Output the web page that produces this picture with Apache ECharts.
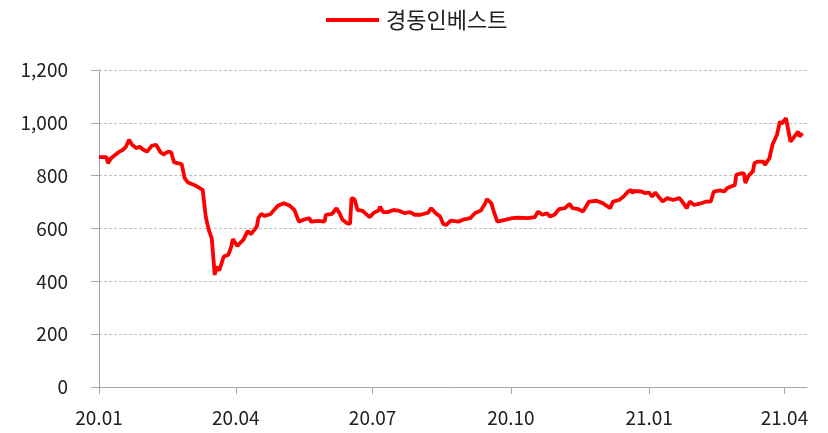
<!DOCTYPE html>
<html>
<head>
<meta charset="utf-8">
<script src="https://cdn.jsdelivr.net/npm/echarts@6/dist/echarts.min.js"></script>
<style>
    html, body { margin: 0; padding: 0; background: #fff; }
    #chart { width: 828px; height: 433px; }
</style>
</head>
<body>
<div id="chart"></div>
<script>
    // 경동인베스트 주가 (원), 2020.01 ~ 2021.04
    const seriesName = '경동인베스트'
    const startDate = '2020-01-01'
    const endDate = '2021-04-16'
    // days since 2020-01-01
    const dayOffsets = [
        0, 5, 6, 8, 13, 16, 18, 20, 22, 25, 27, 29, 32, 35, 38, 39, 41, 43, 46, 48,
        50, 55, 57, 59, 64, 67, 69, 71, 73, 75, 77, 78, 80, 81, 83, 86, 88, 89, 92, 96,
        99, 101, 105, 106, 108, 110, 114, 119, 123, 127, 130, 133, 137, 140, 141, 146, 150, 151, 155, 156,
        158, 160, 162, 165, 167, 168, 170, 172, 175, 177, 180, 183, 186, 187, 189, 192, 196, 199, 201, 203,
        207, 210, 214, 219, 221, 224, 227, 229, 231, 234, 239, 243, 247, 250, 254, 257, 258, 261, 263, 265,
        270, 275, 279, 285, 290, 292, 295, 298, 300, 303, 306, 310, 313, 315, 319, 322, 324, 326, 331, 335,
        340, 342, 346, 349, 352, 354, 355, 356, 361, 363, 366, 368, 370, 373, 375, 378, 382, 386, 388, 391,
        393, 396, 401, 404, 407, 409, 413, 416, 418, 423, 424, 427, 429, 430, 432, 435, 436, 438, 442, 443,
        446, 448, 451, 453, 454, 457, 460, 463, 465, 466, 468
    ]
    const prices = [
        870, 870, 847, 866, 889, 898, 910, 936, 917, 904, 910, 900, 891, 913, 917, 910, 888, 881, 891, 888,
        850, 844, 791, 775, 763, 753, 746, 645, 595, 563, 424, 456, 441, 437, 494, 500, 531, 560, 534, 557,
        591, 578, 607, 639, 655, 648, 654, 686, 696, 686, 670, 626, 635, 639, 626, 629, 626, 652, 655, 660,
        677, 658, 633, 620, 617, 715, 711, 670, 668, 658, 643, 660, 668, 683, 662, 662, 670, 668, 664, 658,
        662, 652, 652, 660, 677, 658, 645, 617, 614, 630, 626, 635, 639, 658, 668, 696, 711, 696, 658, 626,
        633, 639, 641, 639, 643, 664, 652, 658, 645, 652, 673, 677, 693, 677, 673, 664, 683, 702, 705, 696,
        677, 702, 708, 721, 740, 746, 734, 742, 740, 734, 736, 721, 736, 715, 702, 715, 708, 715, 702, 677,
        702, 689, 696, 702, 702, 740, 744, 740, 753, 765, 803, 809, 809, 772, 799, 816, 847, 853, 853, 841,
        866, 917, 955, 1005, 996, 1018, 929, 951, 967, 948, 961
    ]
    const yMin = 0
    const yMax = 1200
    const yStep = 200
    const quarterMonths = ['01', '04', '07', '10']

    // 일별 카테고리
    function buildDates(from, to) {
        let list = []
        let d = new Date(from + 'T00:00:00Z')
        let last = new Date(to + 'T00:00:00Z')
        while (d <= last) {
            list.push(d.toISOString().slice(0, 10))
            d.setUTCDate(d.getUTCDate() + 1)
        }
        return list
    }
    const dates = buildDates(startDate, endDate)

    function isQuarterStart(index, value) {
        return value.slice(8) === '01' && quarterMonths.indexOf(value.slice(5, 7)) >= 0
    }

    let lineData = dayOffsets.map((d, i) => [d, prices[i]])

    let fontFamily = '"Noto Sans CJK KR", "Noto Sans", sans-serif'
    let axisGray = '#a6a6a6'

    let myChart = echarts.init(document.getElementById('chart'))
    let option = {
        animation: false,
        textStyle: { fontFamily: fontFamily },
        legend: {
            top: 4,
            left: 321,
            itemWidth: 53,
            itemHeight: 4,
            icon: 'rect',
            itemStyle: { color: '#ff0000' },
            textStyle: { fontSize: 22, color: '#222', fontFamily: fontFamily, padding: [0, 0, 0, 2] },
            data: [seriesName]
        },
        grid: {
            left: 99,
            right: 21,
            top: 70,
            bottom: 46,
            containLabel: false
        },
        xAxis: {
            type: 'category',
            boundaryGap: false,
            data: dates,
            axisLine: { lineStyle: { color: axisGray, width: 1 } },
            axisTick: { show: true, interval: isQuarterStart, length: 7, lineStyle: { color: axisGray } },
            axisLabel: {
                interval: isQuarterStart,
                margin: 21,
                fontSize: 19,
                color: '#222',
                fontFamily: fontFamily,
                formatter: function (value) {
                    return value.slice(2, 4) + '.' + value.slice(5, 7)
                }
            },
            splitLine: { show: false }
        },
        yAxis: {
            type: 'value',
            min: yMin,
            max: yMax,
            interval: yStep,
            axisLine: { show: true, lineStyle: { color: axisGray, width: 1 } },
            axisTick: { show: true, length: 8, lineStyle: { color: axisGray } },
            axisLabel: {
                margin: 31,
                fontSize: 19,
                color: '#222',
                fontFamily: fontFamily,
                formatter: function (value) {
                    return value.toLocaleString('en-US')
                }
            },
            splitLine: { lineStyle: { color: '#c0c0c0', type: [3, 2], width: 1 } }
        },
        series: [{
            name: seriesName,
            type: 'line',
            data: lineData,
            symbol: 'none',
            showSymbol: false,
            lineStyle: { color: '#ff0000', width: 3.8 },
            itemStyle: { color: '#ff0000' }
        }]
    }
    myChart.setOption(option)
</script>
</body>
</html>
